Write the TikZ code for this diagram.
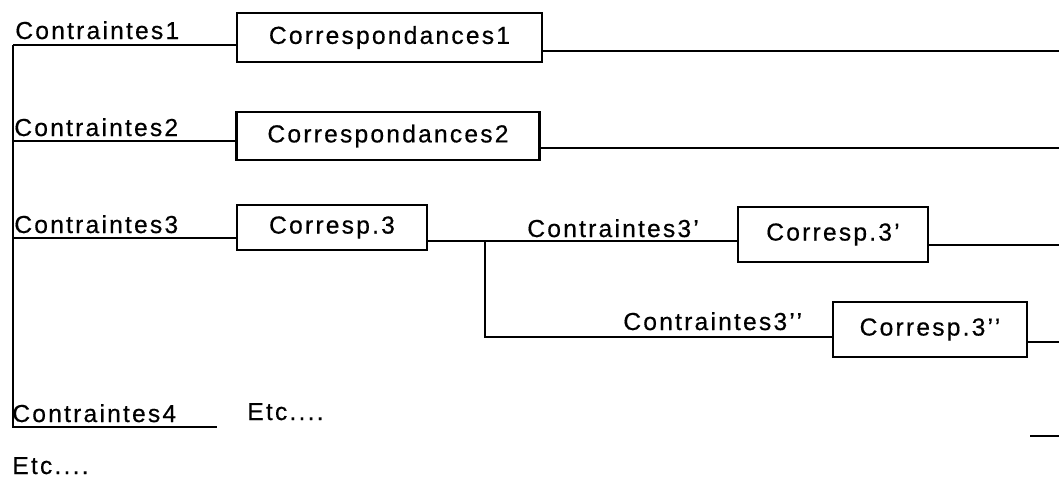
\documentclass[tikz,border=0pt]{standalone}
\usepackage{fontspec}
\newfontfamily\schemafont[LetterSpace=9, FakeBold=0.5]{Liberation Sans}
\usetikzlibrary{positioning}
\tikzset{
    lien/.style={line width=1.1pt},
    corresp/.style={
        rectangle, draw, line width=1.5pt,
        inner sep=0pt
    },
    contr/.style={anchor=base west, inner sep=0pt}
}

\begin{document}
\begin{tikzpicture}[x=0.02cm, y=-0.02cm,
        font=\schemafont\fontsize{14}{17}\selectfont]
    \useasboundingbox (0,0) rectangle (1059,485);
    % boites de correspondances
    \node[corresp, minimum width=6.1cm,  minimum height=0.98cm] (corr1)  at (389.5,37.5) {Correspondances1};
    \node[corresp, minimum width=6.06cm, minimum height=0.96cm] (corr2)  at (388,136)   {Correspondances2};
    \node[corresp, minimum width=3.8cm,  minimum height=0.9cm]  (corr3)  at (332,227.5) {Corresp.3};
    \node[corresp, minimum width=3.8cm,  minimum height=1.1cm]  (corr3p) at (833,234.5) {Corresp.3’};
    \node[corresp, minimum width=3.88cm, minimum height=1.1cm]  (corr3pp) at (930,329.5) {Corresp.3’’};
    % contraintes
    \node[contr] (c1)   at (15,39)   {Contraintes1};
    \node[contr] (c2)   at (14,136)  {Contraintes2};
    \node[contr] (c3)   at (14,233)  {Contraintes3};
    \node[contr] (c3p)  at (527,237) {Contraintes3’};
    \node[contr] (c3pp) at (623,330) {Contraintes3’’};
    \node[contr] (c4)   at (12,422)  {Contraintes4};
    \node[contr] (etc1) at (247,420) {Etc....};
    \node[contr] (etc2) at (12,474)  {Etc....};
    % points de passage
    \coordinate (s1) at (13,45);
    \coordinate (s2) at (13,141);
    \coordinate (s3) at (13,238);
    \coordinate (s4) at (13,427);
    \coordinate (e4) at (217,427);
    \coordinate (r1) at (1059,51);
    \coordinate (r2) at (1059,148);
    \coordinate (b3) at (485,241);
    \coordinate (b3b) at (485,337);
    \coordinate (r3) at (1059,245);
    \coordinate (r3pp) at (1059,342);
    \coordinate (r4a) at (1030,436);
    \coordinate (r4) at (1059,436);
    % liaisons
    \draw[lien] (s1) -- (s4) -- (e4);
    \draw[lien] (s1) -- (s1 -| corr1.west);
    \draw[lien] (s2) -- (s2 -| corr2.west);
    \draw[lien] (s3) -- (s3 -| corr3.west);
    \draw[lien] (r1 -| corr1.east) -- (r1);
    \draw[lien] (r2 -| corr2.east) -- (r2);
    \draw[lien] (b3 -| corr3.east) -- (b3 -| corr3p.west);
    \draw[lien] (b3) -- (b3b) -- (b3b -| corr3pp.west);
    \draw[lien] (r3 -| corr3p.east) -- (r3);
    \draw[lien] (r3pp -| corr3pp.east) -- (r3pp);
    \draw[lien] (r4a) -- (r4);
\end{tikzpicture}
\end{document}
